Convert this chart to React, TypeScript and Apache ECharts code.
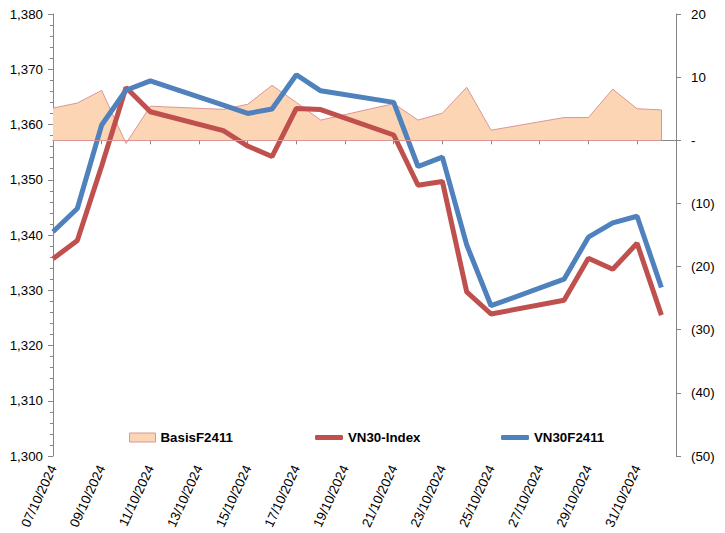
import React, { useEffect, useRef } from "react";
import * as echarts from "echarts";

const dates = [
  "07/10/2024", "08/10/2024", "09/10/2024", "10/10/2024", "11/10/2024",
  "14/10/2024", "15/10/2024", "16/10/2024", "17/10/2024", "18/10/2024",
  "21/10/2024", "22/10/2024", "23/10/2024", "24/10/2024", "25/10/2024",
  "28/10/2024", "29/10/2024", "30/10/2024", "31/10/2024", "01/11/2024",
];
const vn30f2411 = [
  1340.6, 1344.8, 1359.9, 1366.2, 1367.9, 1363.5, 1362.0, 1362.8, 1369.0, 1366.1,
  1364.0, 1352.4, 1354.1, 1338.2, 1327.2, 1332.0, 1339.6, 1342.2, 1343.4, 1330.5,
];
const vn30Index = [
  1335.7, 1339.0, 1352.5, 1366.7, 1362.3, 1358.9, 1356.1, 1354.2, 1362.9, 1362.7,
  1358.1, 1349.0, 1349.7, 1329.7, 1325.7, 1328.2, 1335.8, 1333.8, 1338.5, 1325.5,
];
const basisF2411 = [
  5.1, 5.9, 7.9, -0.5, 5.4, 4.9, 5.7, 8.7, 6.0, 3.2,
  5.8, 3.2, 4.3, 8.4, 1.6, 3.6, 3.6, 8.1, 5.0, 4.8,
];

const FONT = "'Liberation Sans', Arial, sans-serif";
const DAY = 86400000;

function parseDate(s: string): number {
  const [d, m, y] = s.split("/").map(Number);
  return Date.UTC(y, m - 1, d);
}
const base = parseDate(dates[0]);
const dayIdx = dates.map((s) => Math.round((parseDate(s) - base) / DAY));
function fmtDay(v: number): string {
  const t = new Date(base + Math.round(v) * DAY);
  const dd = String(t.getUTCDate()).padStart(2, "0");
  const mm = String(t.getUTCMonth() + 1).padStart(2, "0");
  return `${dd}/${mm}/${t.getUTCFullYear()}`;
}
function fmtRight(v: number): string {
  if (v === 0) return "-";
  if (v < 0) return `(${Math.abs(v)})`;
  return String(v);
}
function fmtLeft(v: number): string {
  return v.toLocaleString("en-US");
}

const AXIS_COLOR = "#868686";
const lastIdx = dayIdx[dayIdx.length - 1];

export default function App() {
  const ref = useRef<HTMLDivElement>(null);
  useEffect(() => {
    if (!ref.current) return;
    const chart = echarts.init(ref.current, null, { renderer: "svg" });
    const legendText = { fontFamily: FONT, fontSize: 13.3, fontWeight: "bold", color: "#000" };
    chart.setOption({
      animation: false,
      backgroundColor: "#fff",
      grid: { left: 53, right: 49, top: 14, bottom: 77, outerBoundsMode: "none" },
      legend: [
        {
          data: ["BasisF2411"], left: 129, top: 431, padding: 0,
          itemWidth: 26, itemHeight: 9, icon: "rect", textStyle: legendText,
          itemStyle: { color: "#FCD5B4", borderColor: "#DA9694", borderWidth: 1 },
        },
        {
          data: ["VN30-Index"], left: 315, top: 431, padding: 0,
          itemWidth: 28, itemHeight: 5, icon: "roundRect", textStyle: legendText,
        },
        {
          data: ["VN30F2411"], left: 501, top: 431, padding: 0,
          itemWidth: 28, itemHeight: 5, icon: "roundRect", textStyle: legendText,
        },
      ],
      xAxis: {
        type: "value",
        min: 0,
        max: 25.6,
        interval: 2,
        axisLine: { show: true, lineStyle: { color: AXIS_COLOR, width: 1 } },
        axisTick: { show: true, length: 4, lineStyle: { color: AXIS_COLOR } },
        splitLine: { show: false },
        axisLabel: {
          rotate: 65, margin: 10, showMaxLabel: false,
          fontFamily: FONT, fontSize: 13.3, color: "#000",
          formatter: (v: number) => (Number.isInteger(v) ? fmtDay(v) : ""),
        },
      },
      yAxis: [
        {
          type: "value", min: 1300, max: 1380, interval: 10, position: "left",
          axisLine: { show: true, lineStyle: { color: AXIS_COLOR, width: 1 } },
          axisTick: { show: true, length: 5, lineStyle: { color: AXIS_COLOR } },
          minorTick: { show: true, splitNumber: 5, length: 3, lineStyle: { color: AXIS_COLOR } },
          splitLine: { show: false },
          axisLabel: { margin: 10, fontFamily: FONT, fontSize: 13.3, color: "#000", formatter: fmtLeft },
        },
        {
          type: "value", min: -50, max: 20, interval: 10, position: "right",
          axisLine: { show: true, lineStyle: { color: AXIS_COLOR, width: 1 } },
          axisTick: { show: true, length: 5, lineStyle: { color: AXIS_COLOR } },
          splitLine: { show: false },
          axisLabel: { margin: 15, fontFamily: FONT, fontSize: 13.3, color: "#000", formatter: fmtRight },
        },
      ],
      series: [
        {
          name: "BasisF2411",
          type: "line",
          yAxisIndex: 1,
          data: dayIdx.map((d, i) => [d, basisF2411[i]]),
          symbol: "none",
          color: "#FCD5B4",
          lineStyle: { color: "#DA9694", width: 1 },
          areaStyle: { color: "#FCD5B4", opacity: 1, origin: 0 },
          z: 1,
          markLine: {
            silent: true,
            symbol: "none",
            label: { show: false },
            lineStyle: { color: "#DA9694", width: 1, type: "solid" },
            data: [
              [{ coord: [0, 0] }, { coord: [lastIdx, 0] }],
              [{ coord: [lastIdx, 0] }, { coord: [lastIdx, basisF2411[basisF2411.length - 1]] }],
            ],
          },
        },
        {
          name: "VN30-Index",
          type: "line",
          yAxisIndex: 0,
          data: dayIdx.map((d, i) => [d, vn30Index[i]]),
          symbol: "none",
          color: "#C0504D",
          lineStyle: { color: "#C0504D", width: 5 },
          z: 2,
        },
        {
          name: "VN30F2411",
          type: "line",
          yAxisIndex: 0,
          data: dayIdx.map((d, i) => [d, vn30f2411[i]]),
          symbol: "none",
          color: "#4F81BD",
          lineStyle: { color: "#4F81BD", width: 5 },
          z: 3,
        },
      ],
    });
    return () => chart.dispose();
  }, []);
  return (
    <div
      ref={ref}
      style={{ position: "absolute", left: 0, top: 0, width: 725, height: 533 }}
    />
  );
}
